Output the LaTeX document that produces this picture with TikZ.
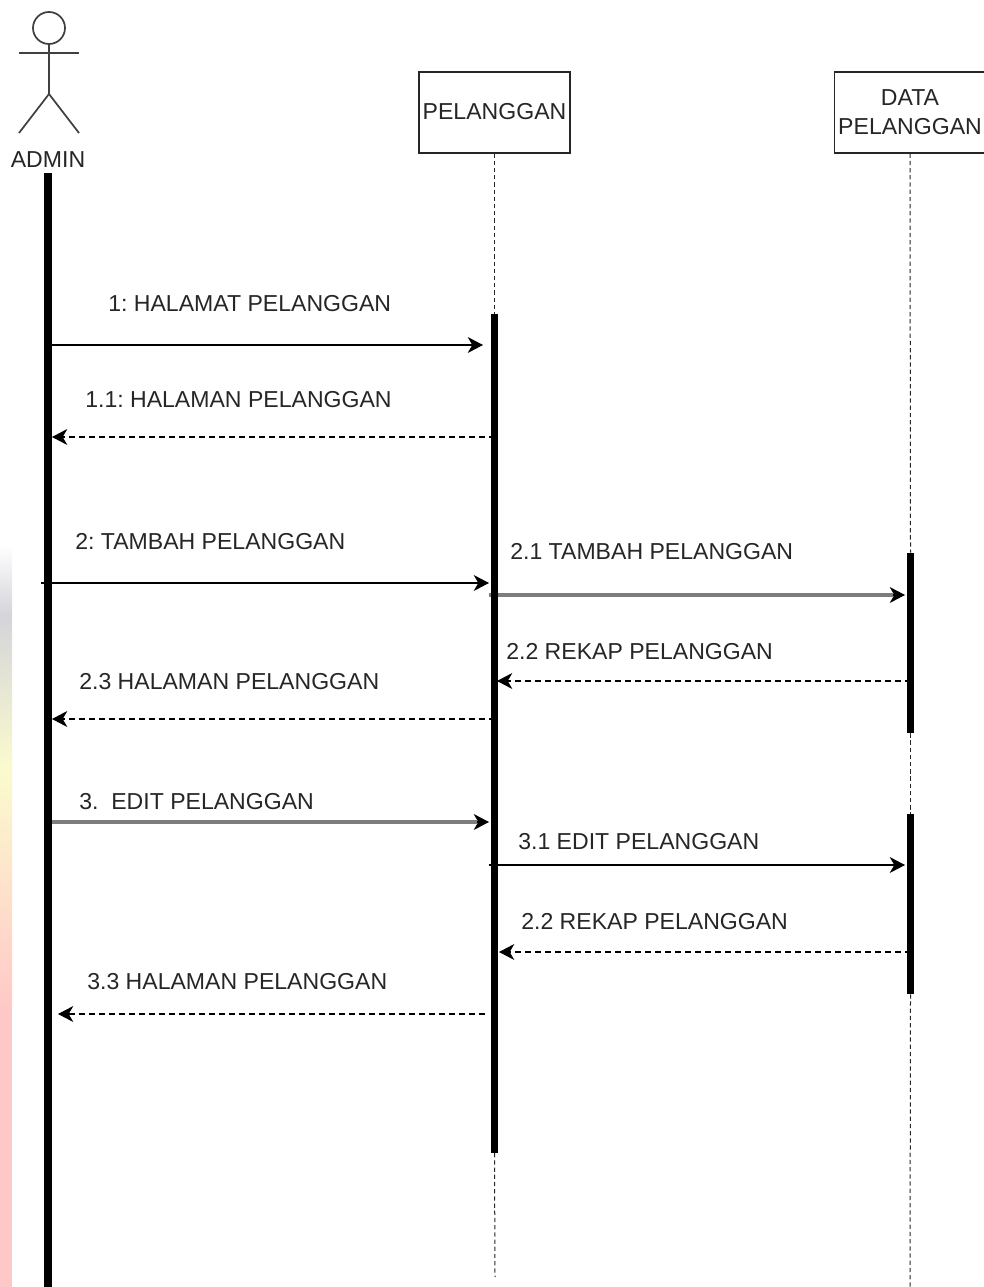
\documentclass[tikz,border=0pt]{standalone}
\usepackage{fontspec}
\setmainfont{Liberation Sans}
\usetikzlibrary{positioning,arrows.meta,backgrounds}
\definecolor{FadeGray}{RGB}{212,212,218}
\definecolor{FadeYellow}{RGB}{251,251,205}
\definecolor{FadePink}{RGB}{255,200,200}
\definecolor{ThickGray}{RGB}{125,125,125}
\tikzset{
  msg/.style={-{Stealth[length=11.5pt,width=12pt,inset=3.5pt]},line width=0.8pt,draw=black},
  graymsg/.style={msg,postaction={draw=ThickGray,line width=2.6pt,arrows=-,shorten >=9pt}},
  retmsg/.style={msg,dash pattern=on 4.5pt off 3pt},
  lifeline/.style={line width=0.75pt,dash pattern=on 3.2pt off 2.2pt,draw=black!85},
  objbox/.style={draw=black!85,line width=1.2pt,fill=white,minimum width=113pt,minimum height=60.5pt,
    align=center,inner sep=0pt,font=\fontsize{17.3}{21.75}\selectfont,text=black!85},
  activebar/.style={fill=black,draw=none,inner sep=0pt,minimum width=5.6pt},
  msglabel/.style={anchor=west,inner sep=0pt,yshift=-0.75pt,font=\fontsize{17.3}{21}\selectfont,text=black!85},
  stick/.style={line width=1.3pt,draw=black!75}
}
\begin{document}
\frenchspacing
\begin{tikzpicture}[x=0.75pt,y=-0.75pt]
  \useasboundingbox (0,0) rectangle (983,1287);
  % fade on the left edge
  \shade[top color=white,bottom color=FadeGray] (0,545) rectangle (12,615);
  \shade[top color=FadeGray,bottom color=FadeYellow] (0,615) rectangle (12,770);
  \shade[top color=FadeYellow,bottom color=FadePink] (0,770) rectangle (12,1010);
  \fill[FadePink] (0,1010) rectangle (12,1287);
  % actor
  \node[circle,stick,minimum size=24pt,inner sep=0pt] (head) at (49,28) {};
  \coordinate (hip) at (49,94);
  \coordinate (armL) at (19,53);
  \coordinate (armR) at (79,53);
  \coordinate (legL) at (19,133);
  \coordinate (legR) at (79,133);
  \draw[stick] (head.south) -- (hip);
  \draw[stick] (armL) -- (armR);
  \draw[stick] (legL) -- (hip) -- (legR);
  \node[msglabel,anchor=center] (admin) at (48,159) {ADMIN};
  % objects
  \node[objbox,text depth=1.5pt] (pelanggan) at (494.5,112.5) {PELANGGAN};
  \node[objbox] (datapel) at (910,112.5) {DATA\\PELANGGAN};
  % activation bars
  \node[activebar,minimum height=835.5pt] (adminbar) at (48,730) {};
  \node[activebar,minimum height=629pt] (pelbar) at (494.5,733.5) {};
  \node[activebar,minimum height=135pt] (databarA) at (910.5,643) {};
  \node[activebar,minimum height=135pt] (databarB) at (910.5,904) {};
  % lifelines
  \coordinate (pelend) at (495,1277);
  \coordinate (dataend) at (910,1287);
  \draw[lifeline] (pelanggan.south) -- (pelbar.north);
  \draw[lifeline] (pelbar.south) -- (pelend);
  \draw[lifeline] (datapel.south) -- (databarA.north);
  \draw[lifeline] (databarA.south) -- (databarB.north);
  \draw[lifeline] (databarB.south) -- (dataend);
  % messages
  \begin{scope}[on background layer]
  \draw[msg] (adminbar |- 0,345) -- (483,345);
  \draw[retmsg] (pelbar |- 0,437) -- (52,437);
  \draw[msg] (41,583) -- (489,583);
  \draw[graymsg] ([xshift=-1.5pt]pelbar.west |- 0,595) -- (905,595);
  \draw[retmsg] (databarA |- 0,681) -- (497,681);
  \draw[retmsg] (pelbar |- 0,719) -- (52,719);
  \draw[graymsg] (adminbar |- 0,822) -- (489,822);
  \draw[msg] ([xshift=-1.5pt]pelbar.west |- 0,865) -- (905,865);
  \draw[retmsg] (databarB |- 0,952) -- (499,952);
  \draw[retmsg] (485,1014) -- (58,1014);
  \end{scope}
  % message labels
  \node[msglabel] (m1) at (108,303) {1: HALAMAT PELANGGAN};
  \node[msglabel] (m11) at (85,399) {1.1: HALAMAN PELANGGAN};
  \node[msglabel] (m2) at (75,541) {2: TAMBAH PELANGGAN};
  \node[msglabel] (m21) at (510,551) {2.1 TAMBAH PELANGGAN};
  \node[msglabel] (m22) at (506,651) {2.2 REKAP PELANGGAN};
  \node[msglabel] (m23) at (79,681) {2.3 HALAMAN PELANGGAN};
  \node[msglabel] (m3) at (79,801) {3.\ \ EDIT PELANGGAN};
  \node[msglabel] (m31) at (518,841) {3.1 EDIT PELANGGAN};
  \node[msglabel] (m32) at (521,921) {2.2 REKAP PELANGGAN};
  \node[msglabel] (m33) at (87,981) {3.3 HALAMAN PELANGGAN};
\end{tikzpicture}
\end{document}
